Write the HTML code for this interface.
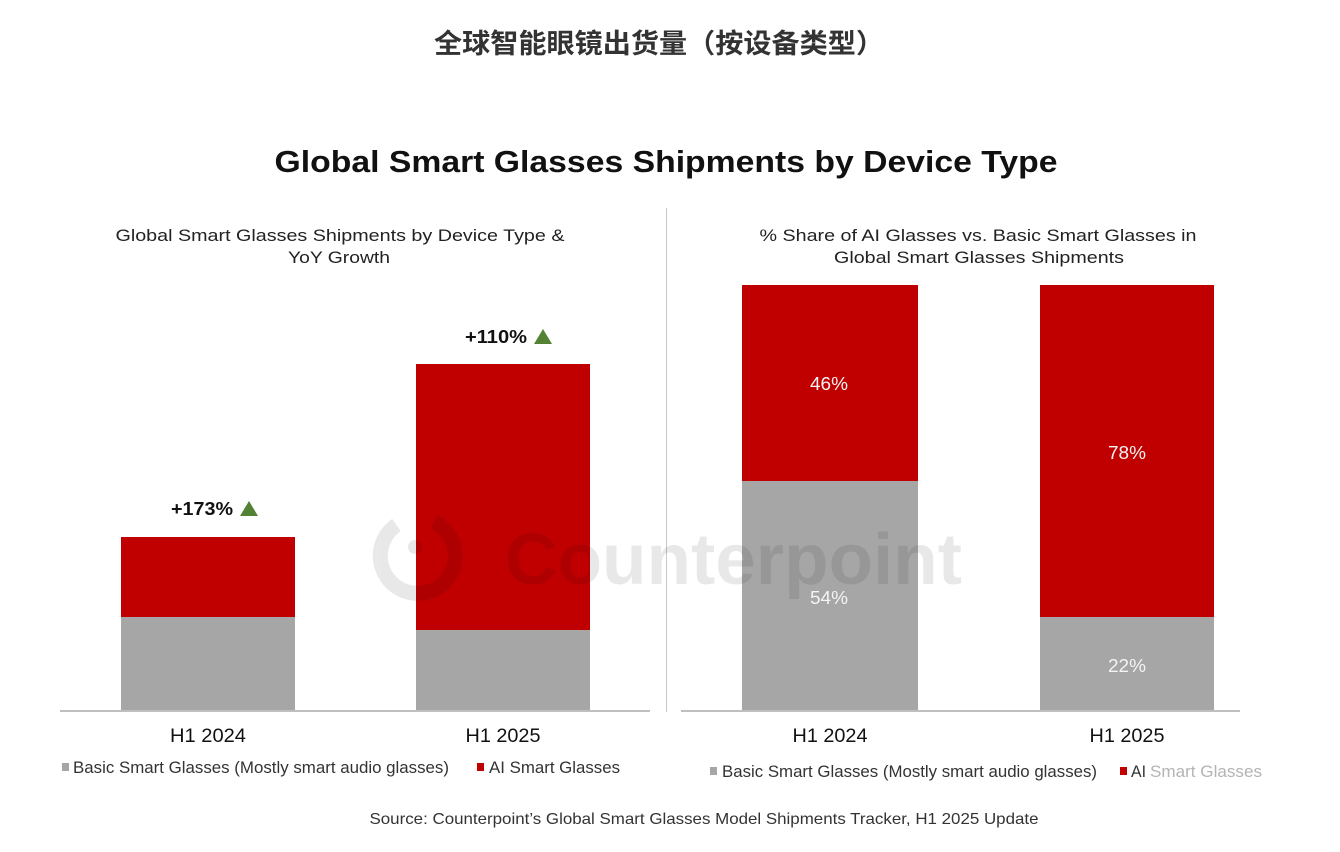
<!DOCTYPE html>
<html>
<head>
<meta charset="utf-8">
<style>
html,body{margin:0;padding:0;background:#fff;}
svg{display:block;}
</style>
</head>
<body>
<svg width="1340" height="852" viewBox="0 0 1340 852" xmlns="http://www.w3.org/2000/svg" font-family="'Liberation Sans', Arial, sans-serif">
<rect width="1340" height="852" fill="#fff"/>

<!-- Chinese title -->
<text x="659" y="53" text-anchor="middle" font-size="27" font-weight="bold" fill="#333" font-family="'Liberation Sans','Noto Sans CJK SC',sans-serif" textLength="450" lengthAdjust="spacingAndGlyphs">全球智能眼镜出货量（按设备类型）</text>

<!-- Main title -->
<text x="666" y="172" text-anchor="middle" font-size="31" font-weight="bold" fill="#111" textLength="783" lengthAdjust="spacingAndGlyphs">Global Smart Glasses Shipments by Device Type</text>

<!-- Subtitles -->
<text x="340" y="241" text-anchor="middle" font-size="17" fill="#222" textLength="449" lengthAdjust="spacingAndGlyphs">Global Smart Glasses Shipments by Device Type &amp;</text>
<text x="339" y="263" text-anchor="middle" font-size="17" fill="#222" textLength="102" lengthAdjust="spacingAndGlyphs">YoY Growth</text>
<text x="978" y="241" text-anchor="middle" font-size="17" fill="#222" textLength="437" lengthAdjust="spacingAndGlyphs">% Share of AI Glasses vs. Basic Smart Glasses in</text>
<text x="979" y="263" text-anchor="middle" font-size="17" fill="#222" textLength="290" lengthAdjust="spacingAndGlyphs">Global Smart Glasses Shipments</text>

<!-- divider -->
<line x1="666.5" y1="208" x2="666.5" y2="712" stroke="#c8c8c8" stroke-width="1"/>

<!-- Left chart bars -->
<rect x="121" y="537" width="174" height="80" fill="#C00000"/>
<rect x="121" y="617" width="174" height="94" fill="#A6A6A6"/>
<rect x="416" y="364" width="174" height="266" fill="#C00000"/>
<rect x="416" y="630" width="174" height="81" fill="#A6A6A6"/>
<line x1="60" y1="711" x2="650" y2="711" stroke="#bfbfbf" stroke-width="2"/>

<text x="202" y="515" text-anchor="middle" font-size="18" font-weight="bold" fill="#111" textLength="62" lengthAdjust="spacingAndGlyphs">+173%</text>
<polygon points="240,516 258,516 249,501" fill="#548235"/>
<text x="496" y="343" text-anchor="middle" font-size="18" font-weight="bold" fill="#111" textLength="62" lengthAdjust="spacingAndGlyphs">+110%</text>
<polygon points="534,344 552,344 543,329" fill="#548235"/>

<text x="208" y="742" text-anchor="middle" font-size="19" fill="#111" textLength="76" lengthAdjust="spacingAndGlyphs">H1 2024</text>
<text x="503" y="742" text-anchor="middle" font-size="19" fill="#111" textLength="75" lengthAdjust="spacingAndGlyphs">H1 2025</text>

<rect x="62" y="763" width="7" height="8" fill="#A6A6A6"/>
<text x="73" y="773" font-size="17" fill="#333" textLength="376" lengthAdjust="spacingAndGlyphs">Basic Smart Glasses (Mostly smart audio glasses)</text>
<rect x="477" y="763" width="7" height="8" fill="#C00000"/>
<text x="489" y="773" font-size="17" fill="#333" textLength="131" lengthAdjust="spacingAndGlyphs">AI Smart Glasses</text>

<!-- Right chart bars -->
<rect x="742" y="285" width="176" height="196" fill="#C00000"/>
<rect x="742" y="481" width="176" height="230" fill="#A6A6A6"/>
<rect x="1040" y="285" width="174" height="332" fill="#C00000"/>
<rect x="1040" y="617" width="174" height="94" fill="#A6A6A6"/>
<line x1="681" y1="711" x2="1240" y2="711" stroke="#bfbfbf" stroke-width="2"/>

<text x="829" y="390" text-anchor="middle" font-size="18" fill="#f4f4f4" textLength="38" lengthAdjust="spacingAndGlyphs">46%</text>
<text x="829" y="604" text-anchor="middle" font-size="18" fill="#f4f4f4" textLength="38" lengthAdjust="spacingAndGlyphs">54%</text>
<text x="1127" y="459" text-anchor="middle" font-size="18" fill="#f4f4f4" textLength="38" lengthAdjust="spacingAndGlyphs">78%</text>
<text x="1127" y="672" text-anchor="middle" font-size="18" fill="#f4f4f4" textLength="38" lengthAdjust="spacingAndGlyphs">22%</text>

<text x="830" y="742" text-anchor="middle" font-size="19" fill="#111" textLength="75" lengthAdjust="spacingAndGlyphs">H1 2024</text>
<text x="1127" y="742" text-anchor="middle" font-size="19" fill="#111" textLength="75" lengthAdjust="spacingAndGlyphs">H1 2025</text>

<rect x="710" y="767" width="7" height="8" fill="#A6A6A6"/>
<text x="722" y="777" font-size="17" fill="#333" textLength="375" lengthAdjust="spacingAndGlyphs">Basic Smart Glasses (Mostly smart audio glasses)</text>
<rect x="1120" y="767" width="7" height="8" fill="#C00000"/>
<text x="1131" y="777" font-size="17" fill="#333" textLength="15" lengthAdjust="spacingAndGlyphs">AI</text>
<text x="1150" y="777" font-size="17" fill="#b4b4b4" textLength="112" lengthAdjust="spacingAndGlyphs">Smart Glasses</text>

<!-- Source -->
<text x="704" y="824" text-anchor="middle" font-size="16" fill="#333" textLength="669" lengthAdjust="spacingAndGlyphs">Source: Counterpoint’s Global Smart Glasses Model Shipments Tracker, H1 2025 Update</text>

<!-- Watermark -->
<g opacity="0.085" fill="#000">
  <path d="M 433.8 522 A 37.5 37.5 0 1 1 396.5 525" fill="none" stroke="#000" stroke-width="15"/>
  <circle cx="415" cy="547" r="7"/>
  <text x="505" y="584" font-size="72" font-weight="bold" textLength="457" lengthAdjust="spacingAndGlyphs">Counterpoint</text>
</g>
</svg>
</body>
</html>
